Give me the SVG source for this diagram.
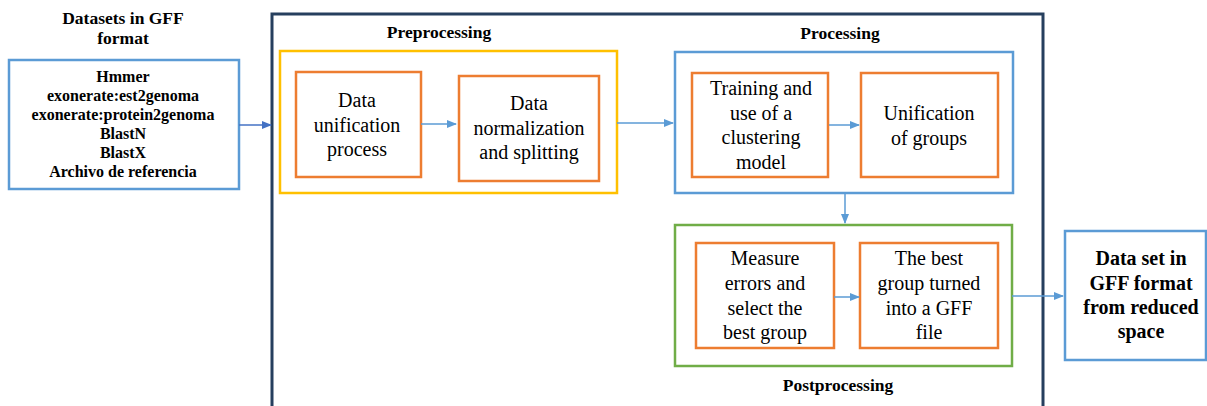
<svg xmlns="http://www.w3.org/2000/svg" width="1207" height="406" viewBox="0 0 1207 406">
<style>
text{font-family:'Liberation Serif',serif;fill:#000;text-anchor:middle}
.b{font-weight:bold}
.box{fill:#fff;stroke-width:2.5}
.or{fill:#fff;stroke:#ed7d31;stroke-width:2.5}
.c{stroke:#5b9bd5;stroke-width:1.5;fill:none;marker-end:url(#ah)}
</style>
<defs>
<marker id="ah" markerWidth="10" markerHeight="8" refX="9" refY="4" orient="auto" markerUnits="userSpaceOnUse">
<path d="M0,0 L10,4 L0,8 Z" fill="#5b9bd5"/>
</marker>
<marker id="ah2" markerWidth="10" markerHeight="8" refX="9" refY="4" orient="auto" markerUnits="userSpaceOnUse">
<path d="M0,0 L10,4 L0,8 Z" fill="#4472c4"/>
</marker>
</defs>
<rect width="1207" height="406" fill="#fff"/>

<g id="main">
<rect x="272" y="14" width="771" height="400" fill="#fff" stroke="#263f5e" stroke-width="3"/>
</g>

<g id="inputs">
<text class="b" x="123" y="24" font-size="17.5" font-family="Liberation Serif, serif">Datasets in GFF</text>
<text class="b" x="123" y="44" font-size="17.5" font-family="Liberation Serif, serif">format</text>
<rect class="box" x="9" y="60" width="230" height="129" stroke="#5b9bd5"/>
<text class="b" font-size="16" font-family="Liberation Serif, serif"><tspan x="123" y="82">Hmmer</tspan><tspan x="123" y="101">exonerate:est2genoma</tspan><tspan x="123" y="120">exonerate:protein2genoma</tspan><tspan x="123" y="139">BlastN</tspan><tspan x="123" y="158">BlastX</tspan><tspan x="123" y="177">Archivo de referencia</tspan></text>
</g>

<g id="preprocessing">
<text class="b" x="439" y="38" font-size="17.5" font-family="Liberation Serif, serif">Preprocessing</text>
<rect class="box" x="280" y="51" width="337" height="142" stroke="#ffc000"/>
</g>
<g id="unification">
<rect class="or" x="296" y="72" width="125" height="105"/>
<text font-size="20" font-family="Liberation Serif, serif"><tspan x="357" y="107">Data</tspan><tspan x="357" y="131.5">unification</tspan><tspan x="357" y="156">process</tspan></text>
</g>
<g id="normalization">
<rect class="or" x="459" y="76" width="140" height="105"/>
<text font-size="20" font-family="Liberation Serif, serif"><tspan x="529" y="110">Data</tspan><tspan x="529" y="134.5">normalization</tspan><tspan x="529" y="159">and splitting</tspan></text>
</g>

<g id="processing">
<text class="b" x="840" y="39" font-size="17.5" font-family="Liberation Serif, serif">Processing</text>
<rect class="box" x="675" y="52" width="338" height="141" stroke="#5b9bd5"/>
</g>
<g id="training">
<rect class="or" x="692" y="73" width="136" height="104"/>
<text font-size="20" font-family="Liberation Serif, serif"><tspan x="761" y="95">Training and</tspan><tspan x="761" y="119.5">use of a</tspan><tspan x="761" y="144">clustering</tspan><tspan x="761" y="168.5">model</tspan></text>
</g>
<g id="groups">
<rect class="or" x="861" y="73" width="137" height="104"/>
<text font-size="20" font-family="Liberation Serif, serif"><tspan x="929" y="120">Unification</tspan><tspan x="929" y="144.5">of groups</tspan></text>
</g>

<g id="postprocessing">
<rect class="box" x="675" y="225" width="337" height="141" stroke="#70ad47"/>
<text class="b" x="838" y="391" font-size="17.5" font-family="Liberation Serif, serif">Postprocessing</text>
</g>
<g id="measure">
<rect class="or" x="696" y="243" width="138" height="105"/>
<text font-size="20" font-family="Liberation Serif, serif"><tspan x="765" y="265">Measure</tspan><tspan x="765" y="290">errors and</tspan><tspan x="765" y="315">select the</tspan><tspan x="765" y="339">best group</tspan></text>
</g>
<g id="best">
<rect class="or" x="860" y="243" width="138" height="105"/>
<text font-size="20" font-family="Liberation Serif, serif"><tspan x="929" y="265">The best</tspan><tspan x="929" y="290">group turned</tspan><tspan x="929" y="315">into a GFF</tspan><tspan x="929" y="339">file</tspan></text>
</g>

<g id="output">
<rect class="box" x="1065" y="231" width="141" height="129" stroke="#5b9bd5"/>
<text class="b" font-size="20" font-family="Liberation Serif, serif"><tspan x="1141" y="265">Data set in</tspan><tspan x="1141" y="290">GFF format</tspan><tspan x="1141" y="314">from reduced</tspan><tspan x="1141" y="338">space</tspan></text>
</g>

<g id="connectors">
<path d="M239,125 H271" stroke="#4472c4" stroke-width="1.5" fill="none" marker-end="url(#ah2)"/>
<path class="c" d="M421,124 H456"/>
<path class="c" d="M617,123 H673"/>
<path class="c" d="M829,125 H859"/>
<path class="c" d="M845,193 V223"/>
<path class="c" d="M834,297 H859"/>
<path class="c" d="M1012,296 H1063"/>
</g>
</svg>
